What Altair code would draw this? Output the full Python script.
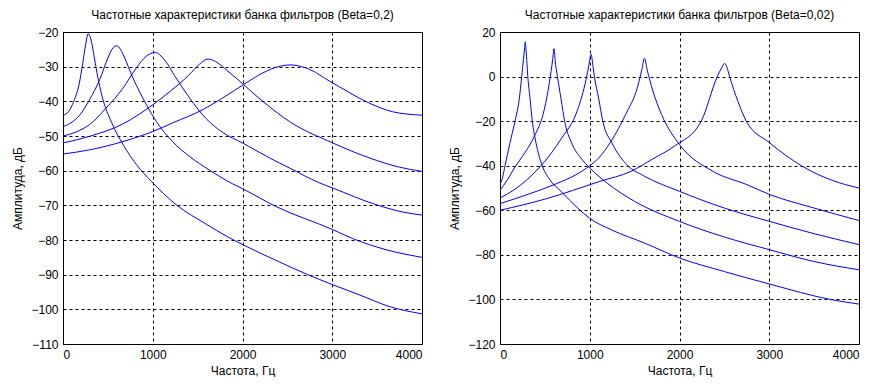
import altair as alt
import pandas as pd

# ---- Left panel (Beta=0,2) ----
L1_f = [0, 60, 120, 180, 220, 250, 280, 310, 340, 380, 440, 540, 670, 820, 985, 1260, 1600, 1850, 2040, 2400, 2710, 3005, 3300, 3650, 4000]
L1_v = [-44, -43, -40, -35, -29, -24, -20.5, -22, -26, -32, -39, -46, -52.5, -58.3, -63.1, -69.8, -75.5, -79.3, -81.8, -86.2, -89.8, -92.9, -95.8, -99.3, -101.3]
L2_f = [0, 100, 185, 296, 408, 500, 560, 600, 640, 670, 780, 930, 1040, 1220, 1410, 1630, 1890, 2000, 2370, 3005, 3230, 3600, 4000]
L2_v = [-47.3, -46, -44, -39.5, -33.8, -27.5, -24.5, -24, -25, -26.5, -33.3, -41, -45.8, -51.6, -55.9, -59.8, -63.8, -65.2, -70.3, -77, -79.6, -82.8, -85]
L3_f = [0, 150, 296, 482, 668, 816, 927, 1030, 1113, 1261, 1409, 1595, 1781, 2000, 2300, 2522, 2856, 3005, 3487, 3800, 4000]
L3_v = [-50, -48.8, -46.7, -41.9, -36.2, -30.4, -27, -25.9, -27.5, -33.3, -39, -45, -49, -52, -56.3, -59.2, -63.5, -65, -69.8, -72, -72.8]
L4_f = [0, 296, 668, 1000, 1200, 1400, 1520, 1614, 1700, 1800, 1929, 2226, 2522, 3005, 3412, 3750, 4000]
L4_v = [-52, -50.1, -46.5, -41, -37, -32.5, -29.3, -27.8, -28.5, -30.5, -33.3, -40, -45.8, -52, -56.3, -59, -60.2]
L5_f = [0, 296, 668, 1001, 1224, 1558, 1781, 2040, 2226, 2400, 2530, 2700, 3005, 3412, 3672, 4000]
L5_v = [-55.2, -54, -51.6, -48.7, -46.2, -42.4, -39, -34.7, -31.8, -30, -29.5, -30.3, -34.7, -40.5, -43, -44]

# ---- Right panel (Beta=0,02) ----
R1_f = [0, 30, 56, 110, 167, 215, 242, 262, 275, 282, 290, 300, 310, 335, 360, 400, 470, 550, 680, 866, 996, 1238, 1610, 2000, 2500, 3004, 3692, 4000]
R1_v = [-48.5, -45, -40, -30, -20, -10, 0, 8, 13, 15.6, 12, 6, 0, -10, -20, -29.5, -40, -46, -51.5, -59, -63.5, -68.7, -74.7, -81.4, -87.5, -93.1, -100.1, -102.1]
R2_f = [0, 80, 160, 280, 384, 494, 550, 587, 602, 615, 640, 680, 720, 800, 900, 1000, 1200, 1500, 2000, 2500, 3004, 3500, 4000]
R2_v = [-51, -46.5, -41, -34, -26.7, -14.7, -2.8, 7.7, 12.5, 7, 0, -10, -20, -30, -36.5, -41, -48, -56, -65, -72, -77.7, -83, -86.7]
R3_f = [0, 150, 308, 500, 680, 866, 959, 990, 1015, 1035, 1052, 1100, 1145, 1250, 1424, 1600, 2000, 2500, 3004, 3500, 4000]
R3_v = [-54.5, -51, -46, -38, -28, -14.7, -1.3, 5, 10, 5, 0, -10, -20, -30, -40, -44.5, -51.5, -59, -65, -70.5, -75.4]
R4_f = [0, 300, 632, 848, 1000, 1100, 1238, 1400, 1535, 1580, 1610, 1640, 1700, 1800, 2000, 2372, 2744, 3004, 3500, 4000]
R4_v = [-57, -53, -48, -44, -40, -36.5, -29, -17, -4.3, 3, 8.2, 3, -6, -17, -30.5, -42.5, -48.4, -52.9, -59, -64.6]
R5_f = [0, 500, 1115, 1461, 1700, 1944, 2242, 2421, 2470, 2502, 2530, 2558, 2650, 2744, 3004, 3358, 3841, 4000]
R5_v = [-60, -55, -47, -42.5, -37, -31.2, -20, 0, 4, 5.9, 4, 0, -11, -20, -29.7, -40, -48.4, -50]

FONT = "Liberation Sans"


def make_df(curves):
    rows = []
    for k, (fs, vs) in enumerate(curves):
        for f, v in zip(fs, vs):
            rows.append({"f": f, "v": v, "c": k})
    return pd.DataFrame(rows)


def panel(df, title, ydom, ystep, interp):
    xt = list(range(0, 4001, 1000))
    yt = list(range(ydom[0], ydom[1] + 1, ystep))
    return alt.Chart(df).mark_line(color="#0000ff", strokeWidth=1, interpolate=interp, clip=True).encode(
        x=alt.X("f:Q", scale=alt.Scale(domain=[0, 4000], nice=False),
                axis=alt.Axis(values=xt, title="Частота, Гц", format="d")),
        y=alt.Y("v:Q", scale=alt.Scale(domain=ydom, nice=False),
                axis=alt.Axis(values=yt, title="Амплитуда, дБ", format="d")),
        detail="c:N",
    ).properties(width=359, height=312, title=title)


left = panel(make_df([(L1_f, L1_v), (L2_f, L2_v), (L3_f, L3_v), (L4_f, L4_v), (L5_f, L5_v)]),
             "Частотные характеристики банка фильтров (Beta=0,2)", [-110, -20], 10, "monotone")
right = panel(make_df([(R1_f, R1_v), (R2_f, R2_v), (R3_f, R3_v), (R4_f, R4_v), (R5_f, R5_v)]),
              "Частотные характеристики банка фильтров (Beta=0,02)", [-120, 20], 20, "monotone")

chart = alt.hconcat(left, right, spacing=25).properties(padding={"left": 3, "top": 0, "right": 0, "bottom": 0}).configure(
    font=FONT,
).configure_view(stroke="black", strokeWidth=1).configure_axis(
    grid=True, gridColor="black", gridDash=[3, 3], gridOpacity=1, gridWidth=1,
    domainColor="black", domainWidth=1,
    ticks=False,
    labelFont=FONT, labelFontSize=12, labelColor="black", labelPadding=5,
    titleFont=FONT, titleFontSize=12, titleFontWeight="normal", titleColor="black",
).configure_axisY(titlePadding=6).configure_axisX(titlePadding=5).configure_title(
    font=FONT, fontSize=12, fontWeight="normal", color="black", offset=4, anchor="middle",
)

chart.save("out.html", embed_options={"renderer": "svg", "actions": False})
